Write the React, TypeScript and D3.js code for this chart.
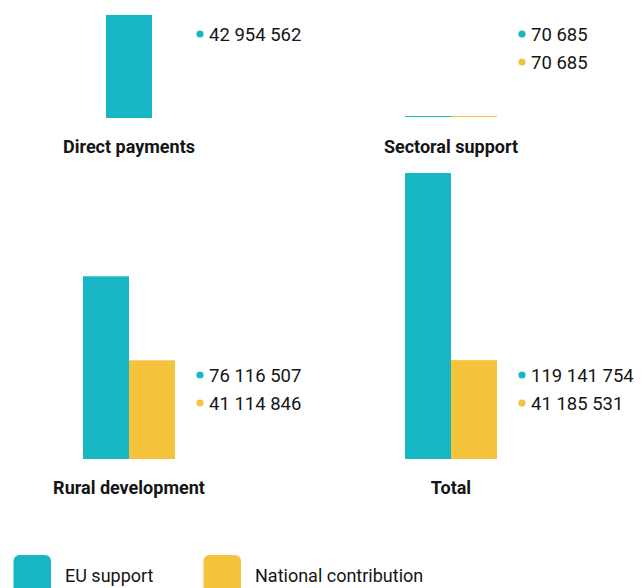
import React from "react";
import * as d3 from "d3";

const categories = ["Direct payments", "Sectoral support", "Rural development", "Total"];
const euSupport: (number | null)[] = [42954562, 70685, 76116507, 119141754];
const nationalContribution: (number | null)[] = [null, 70685, 41114846, 41185531];
const seriesNames = ["EU support", "National contribution"];
const seriesColors = ["#17B6C4", "#F5C33B"];

const W = 642;
const H = 588;
const BAR_W = 46;
const TEXT = "#151515";
const FONT = "Roboto, 'Noto Sans', sans-serif";

const fmt = (v: number) => d3.format(",")(v).replace(/,/g, " ");

export default function App() {
  const colX = d3.scalePoint<number>().domain([0, 1]).range([129, 451]);
  const rowY = d3.scalePoint<number>().domain([0, 1]).range([118, 459]);
  const maxV = d3.max([...euSupport, ...nationalContribution].filter((v) => v != null) as number[]) as number;
  const h = d3.scaleLinear().domain([0, maxV]).range([0, 286]);

  return (
    <svg width={W} height={H} style={{ position: "absolute", left: 0, top: 0 }} fontFamily={FONT}>
      {categories.map((cat, i) => {
        const cx = colX(i % 2) as number;
        const base = rowY(Math.floor(i / 2)) as number;
        const vals = [euSupport[i], nationalContribution[i]];
        const present = vals.map((v, k) => ({ v, k })).filter((d) => d.v != null) as { v: number; k: number }[];
        const xb = d3
          .scaleBand<number>()
          .domain(present.map((d) => d.k))
          .range([cx - (BAR_W * present.length) / 2, cx + (BAR_W * present.length) / 2])
          .padding(0);
        return (
          <g key={cat}>
            {present.map((d) => {
              const raw = h(d.v);
              const bh = raw < 1 ? 1 : raw;
              const y = raw < 1 ? Math.round(base - 2) : base - bh;
              return (
                <rect
                  key={d.k}
                  x={xb(d.k)}
                  y={y}
                  width={xb.bandwidth()}
                  height={bh}
                  fill={seriesColors[d.k]}
                  shapeRendering={raw < 1 ? "crispEdges" : undefined}
                />
              );
            })}
            {present.map((d, j) => {
              const ly = base - 84 + j * 28;
              return (
                <g key={"l" + d.k}>
                  <circle cx={cx + 71} cy={ly} r={3.6} fill={seriesColors[d.k]} />
                  <text x={cx + 80} y={ly + 6.8} fontSize={18.5} fill={TEXT}>
                    {fmt(d.v)}
                  </text>
                </g>
              );
            })}
            <text x={cx} y={base + 34.5} textAnchor="middle" fontSize={18} fontWeight={700} fill={TEXT}>
              {cat}
            </text>
          </g>
        );
      })}
      {seriesNames.map((s, k) => {
        const lx = [13.5, 203.5][k];
        return (
          <g key={s}>
            <rect x={lx} y={555} width={37.5} height={45} rx={6} fill={seriesColors[k]} />
            <text x={lx + 51.5} y={581.5} fontSize={18} fill={TEXT}>
              {s}
            </text>
          </g>
        );
      })}
    </svg>
  );
}
